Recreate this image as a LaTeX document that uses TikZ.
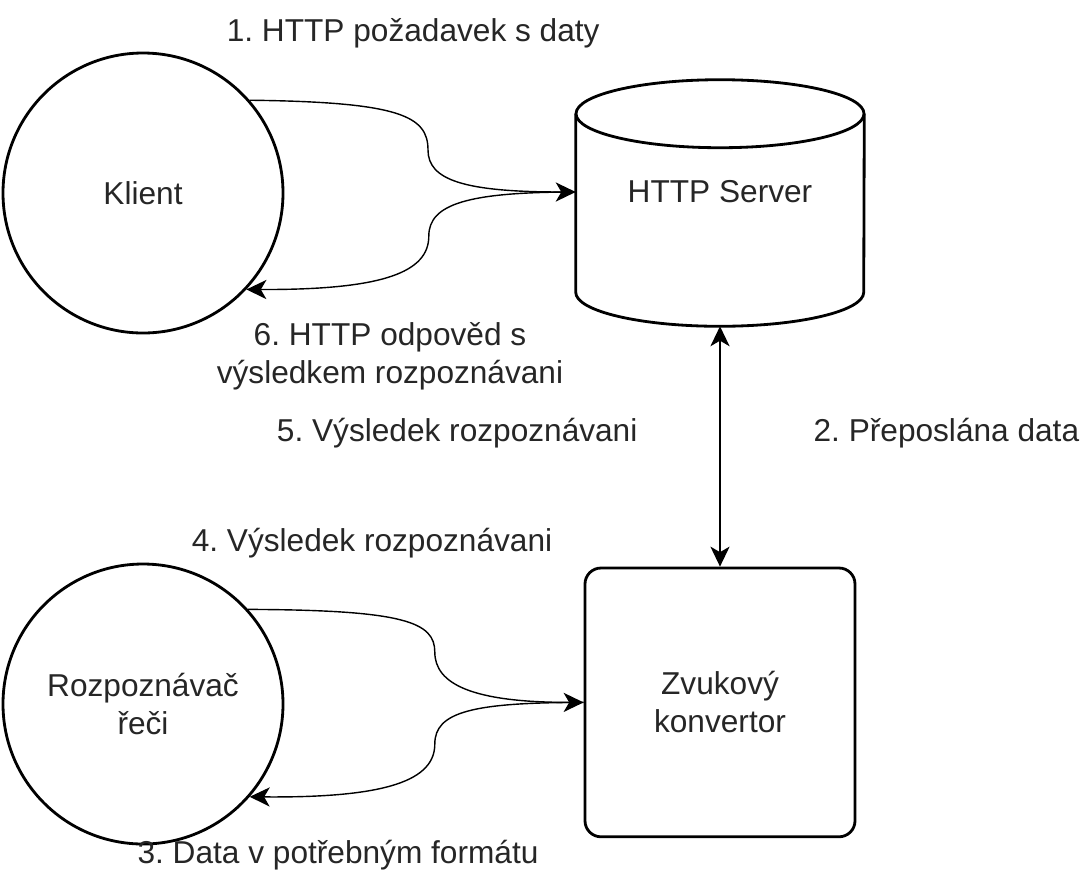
\documentclass[tikz,border=0pt]{standalone}
\usepackage{fontspec}
\setmainfont{Liberation Sans}
\usetikzlibrary{arrows.meta}
\frenchspacing

\begin{document}
\begin{tikzpicture}[
		font=\fontsize{22.5}{27}\selectfont,
		text=black!85,
		party/.style={circle, draw, line width=2pt, minimum size=7cm, align=center},
		outline/.style={line width=2pt},
		flow/.style={line width=1pt, -{Stealth[length=0.5cm, width=0.48cm, inset=0.14cm]}},
		both/.style={line width=1pt, {Stealth[length=0.5cm, width=0.48cm, inset=0.14cm]}-{Stealth[length=0.5cm, width=0.48cm, inset=0.14cm]}},
		note/.style={align=center, inner sep=0pt}
	]
			\useasboundingbox (0,0) rectangle (27.2,-21.9);

			% Draw the parties
			\node[party] (klient) at (3.575,-4.825) {Klient};
			\node[party] (recog) at (3.575,-17.6) {Rozpoznávač\\řeči};
			\node[draw, outline, rounded corners=0.4cm, minimum width=6.75cm, minimum height=6.72cm, align=center] (conv) at (18.0,-17.56) {Zvukový\\konvertor};

			% Draw the server as a cylinder
			\node[minimum width=7.2cm, minimum height=6.7cm, inner sep=0pt] (server) at (18.0,-4.8) {HTTP Server};
			\draw[outline] ([yshift=-1.4cm]server.north) ellipse [x radius=3.6cm, y radius=0.85cm];
			\draw[outline] ([yshift=-1.4cm]server.north west) -- ([yshift=0.85cm]server.south west)
				arc[start angle=180, end angle=360, x radius=3.6cm, y radius=0.85cm] -- ([yshift=-1.4cm]server.north east);

			% Draw the requests and answers
			\draw[flow] (klient.41) .. controls (10.0,-2.55) and (10.7,-2.9) .. (10.7,-3.75)
				.. controls (10.7,-4.5) and (11.6,-4.8) .. (server.west);
			\draw[flow] (server.west) .. controls (11.7,-4.8) and (10.72,-5.1) .. (10.72,-5.9)
				.. controls (10.72,-6.8) and (9.6,-7.25) .. (klient.-43);
			\draw[both] (server.south) -- (conv.north);
			\draw[flow] (recog.42) .. controls (10.1,-15.25) and (10.87,-15.55) .. (10.87,-16.3)
				.. controls (10.87,-17.1) and (11.8,-17.56) .. (conv.west);
			\draw[flow] (conv.west) .. controls (11.8,-17.56) and (10.87,-17.8) .. (10.87,-18.6)
				.. controls (10.87,-19.5) and (9.7,-19.95) .. (recog.-41);

			% Draw the step labels
			\node[note] (req) at (10.33,-0.83) {1. HTTP požadavek s daty};
			\node[note] (fwd) at (23.66,-10.83) {2. Přeposlána data};
			\node[note] (data) at (8.45,-21.38) {3. Data v potřebným formátu};
			\node[note] (res4) at (9.3,-13.58) {4. Výsledek rozpoznávani};
			\node[note] (res5) at (11.43,-10.83) {5. Výsledek rozpoznávani};
			\node[note] (resp) at (9.75,-8.9) {6. HTTP odpověd s\\výsledkem rozpoznávani};
		\end{tikzpicture}
\end{document}
